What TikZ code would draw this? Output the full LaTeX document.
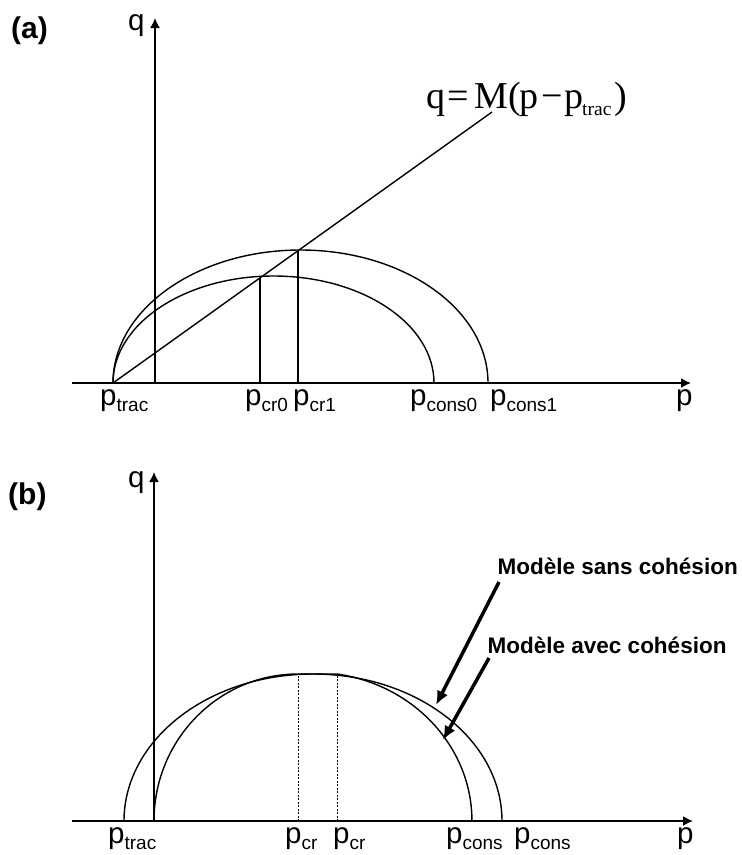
\documentclass[tikz,border=0pt]{standalone}
\usepackage{fontspec}
\setmainfont{Liberation Sans}
\newfontfamily\timesf{Liberation Serif}
\usetikzlibrary{arrows.meta}
\newcommand\lsub[1]{\raisebox{-6pt}{\fontsize{19}{19}\selectfont #1}}
\begin{document}
\begin{tikzpicture}[x=1pt,y=1pt,
  lab/.style={anchor=base west, inner sep=0pt, font=\fontsize{29.5}{29.5}\selectfont},
  panel/.style={anchor=base west, inner sep=0pt, font=\fontsize{30}{30}\selectfont\bfseries},
  mlab/.style={anchor=base west, inner sep=0pt, font=\fontsize{22.5}{22.5}\selectfont\bfseries},
  axis/.style={line width=1.5pt, -{Latex[length=10pt,width=10pt]}},
  curve/.style={line width=1.4pt},
  guide/.style={line width=1.4pt},
  dashguide/.style={line width=0.9pt, dash pattern=on 2pt off 1.5pt},
  pointer/.style={line width=3.5pt, -{Latex[length=14pt,width=12pt]}}]
\useasboundingbox (0,0) rectangle (742,-855);
% ---------------- panel (a)
\coordinate (aqbot) at (155,-383);
\coordinate (aqtop) at (155,-18);
\coordinate (apl) at (72,-383);
\coordinate (apr) at (691,-383);
\coordinate (aptrac) at (113,-383);
\coordinate (aend) at (492,-112);
\coordinate (acr0b) at (260,-383);
\coordinate (acr0t) at (260,-278);
\coordinate (acr1b) at (298,-383);
\coordinate (acr1t) at (298,-251);
\draw[axis] (aqbot) -- (aqtop);
\draw[axis] (apl) -- (apr);
\draw[curve] (aptrac) arc[start angle=180,end angle=0,x radius=187.5,y radius=133] coordinate (apcons1);
\draw[curve] (aptrac) arc[start angle=180,end angle=0,x radius=160.5,y radius=107] coordinate (apcons0);
\draw[guide] (aptrac) -- (aend);
\draw[guide] (acr0b) -- (acr0t);
\draw[guide] (acr1b) -- (acr1t);
\node[panel] (pa) at (11,-38) {(a)};
\node[lab] (qa) at (128,-30) {q};
\node[lab] (pa1) at (676,-405.5) {p};
\node[lab] (ptraca) at (100,-405.5) {p\lsub{trac}};
\node[lab] (pcr0) at (245,-405.5) {p\lsub{cr0}};
\node[lab] (pcr1) at (293,-405.5) {p\lsub{cr1}};
\node[lab] (pcons0) at (410,-405.5) {p\lsub{cons0}};
\node[lab] (pcons1) at (490,-405.5) {p\lsub{cons1}};
\node[anchor=base west, inner sep=0pt, font=\timesf\fontsize{38}{38}\selectfont] (formula) at (426,-108)
 {\makebox[21pt][l]{q}\makebox[27pt][l]{=}\makebox[34pt][l]{M}\makebox[11pt][l]{(}\makebox[22pt][l]{p}\makebox[23pt][l]{−}\makebox[18pt][l]{p}\makebox[32pt][l]{\raisebox{-7pt}{\fontsize{19.5}{19.5}\selectfont trac}})};
% ---------------- panel (b)
\coordinate (bqbot) at (154,-821);
\coordinate (bqtop) at (154,-472);
\coordinate (bpl) at (72,-821);
\coordinate (bpr) at (693,-821);
\coordinate (bptrac) at (124,-821);
\coordinate (bstart) at (154,-821);
\coordinate (bcra) at (298,-821);
\coordinate (bcrat) at (298,-674);
\coordinate (bcrb) at (337,-821);
\coordinate (bcrbt) at (337,-674);
\draw[axis] (bqbot) -- (bqtop);
\draw[axis] (bpl) -- (bpr);
\draw[curve] (bptrac) arc[start angle=180,end angle=0,x radius=189,y radius=147] coordinate (bpconsout);
\draw[curve] (bstart) arc[start angle=180,end angle=90,x radius=144,y radius=147] -- (bcrbt)
   arc[start angle=81.3,end angle=0,x radius=159,y radius=148.7] coordinate (bpconsin);
\draw[dashguide] (bcra) -- (bcrat);
\draw[dashguide] (bcrb) -- (bcrbt);
\node[panel] (pb) at (8,-504) {(b)};
\node[lab] (qb) at (128,-487) {q};
\node[lab] (pb1) at (677,-843.5) {p};
\node[lab] (ptracb) at (108,-843.5) {p\lsub{trac}};
\node[lab] (pcra) at (285,-843.5) {p\lsub{cr}};
\node[lab] (pcrb) at (333,-843.5) {p\lsub{cr}};
\node[lab] (pconsa) at (446,-843.5) {p\lsub{cons}};
\node[lab] (pconsb) at (514,-843.5) {p\lsub{cons}};
\node[mlab] (msans) at (497.5,-574) {Modèle sans cohésion};
\node[mlab] (mavec) at (487.5,-653.5) {Modèle avec cohésion};
\coordinate (tipsans) at (436,-705);
\coordinate (tipavec) at (443,-740);
\draw[pointer] ([xshift=1.5pt,yshift=-8pt]msans.base west) -- (tipsans);
\draw[pointer] ([xshift=1.5pt,yshift=-4.5pt]mavec.base west) -- (tipavec);
\end{tikzpicture}
\end{document}
